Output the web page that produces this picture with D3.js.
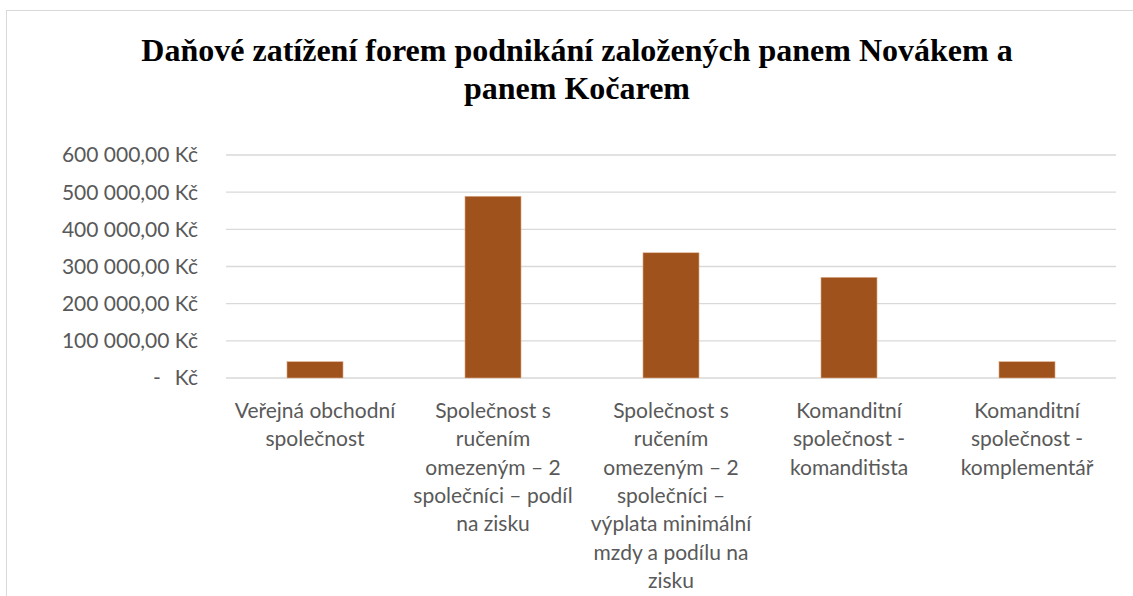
<!DOCTYPE html>
<html>
<head>
  <meta charset="utf-8">
  <title>Daňové zatížení forem podnikání</title>
  <script src="https://d3js.org/d3.v7.min.js"></script>
  <style>
    html, body { margin: 0; padding: 0; background: #fff; }
    svg { display: block; }
  </style>
</head>
<body>
  <script>

// chart data
const categories = [
  ["Veřejná obchodní", "společnost"],
  ["Společnost s", "ručením", "omezeným – 2", "společníci – podíl", "na zisku"],
  ["Společnost s", "ručením", "omezeným – 2", "společníci –", "výplata minimální", "mzdy a podílu na", "zisku"],
  ["Komanditní", "společnost -", "komanditista"],
  ["Komanditní", "společnost -", "komplementář"]
];
const values = [44000, 489000, 337000, 271000, 44000];
const yTicks = [0, 100000, 200000, 300000, 400000, 500000, 600000];
const titleLines = ["Daňové zatížení forem podnikání založených panem Novákem a", "panem Kočarem"];

const W = 1133, H = 596;
const plot = { left: 226, right: 1116, top: 155, bottom: 378 };

const svg = d3.select("body")
  .append("svg")
  .attr("width", W)
  .attr("height", H);

// chart area border
svg.append("rect")
  .attr("x", 6.5).attr("y", 10.5)
  .attr("width", W + 10).attr("height", H + 10)
  .attr("fill", "none")
  .attr("stroke", "#d9d9d9")
  .attr("stroke-width", 1);

// title
svg.append("text")
  .attr("x", 577)
  .attr("text-anchor", "middle")
  .attr("font-family", "'Liberation Serif', 'Times New Roman', serif")
  .attr("font-weight", "bold")
  .attr("font-size", 32)
  .attr("fill", "#000")
  .selectAll("tspan")
  .data(titleLines)
  .enter().append("tspan")
  .attr("x", 577)
  .attr("y", (d, i) => 61 + i * 38)
  .text(d => d);

const x = d3.scaleBand()
  .domain(d3.range(categories.length))
  .range([plot.left, plot.right])
  .paddingInner(0.685)
  .paddingOuter(0.3425);

const y = d3.scaleLinear()
  .domain([0, 600000])
  .range([plot.bottom, plot.top]);

// gridlines
svg.append("g")
  .selectAll("line")
  .data(yTicks)
  .enter().append("line")
  .attr("x1", plot.left)
  .attr("x2", plot.right)
  .attr("y1", d => y(d))
  .attr("y2", d => y(d))
  .attr("stroke", "#d9d9d9")
  .attr("stroke-width", 1.3);

// y axis labels (accounting format)
const fmt = v => d3.format(",.2f")(v).replace(/,/g, " ").replace(".", ",") + " Kč";
const yLab = svg.append("g")
  .attr("font-family", "Lato, 'Noto Sans', sans-serif")
  .attr("font-size", 21)
  .attr("fill", "#595959");

yLab.selectAll("text.val")
  .data(yTicks.filter(d => d > 0))
  .enter().append("text")
  .attr("class", "val")
  .attr("x", 198)
  .attr("y", d => y(d))
  .attr("dy", "0.35em")
  .attr("text-anchor", "end")
  .text(fmt);

yLab.append("text")
  .attr("x", 198).attr("y", y(0)).attr("dy", "0.35em")
  .attr("text-anchor", "end")
  .text("Kč");
yLab.append("text")
  .attr("x", 157).attr("y", y(0)).attr("dy", "0.35em")
  .attr("text-anchor", "middle")
  .text("-");

// bars
svg.append("g")
  .selectAll("rect")
  .data(values)
  .enter().append("rect")
  .attr("x", (d, i) => x(i))
  .attr("y", d => y(d))
  .attr("width", x.bandwidth())
  .attr("height", d => y(0) - y(d))
  .attr("fill", "#a0521c")
  .attr("stroke", "#e2b595")
  .attr("stroke-width", 0.6);

// category labels
const cat = svg.append("g")
  .attr("font-family", "Lato, 'Noto Sans', sans-serif")
  .attr("font-size", 21)
  .attr("fill", "#595959")
  .attr("text-anchor", "middle");

cat.selectAll("text")
  .data(categories)
  .enter().append("text")
  .attr("transform", (d, i) => `translate(${x(i) + x.bandwidth() / 2},0)`)
  .selectAll("tspan")
  .data(d => d)
  .enter().append("tspan")
  .attr("x", 0)
  .attr("y", (d, i) => 418 + i * 28.3)
  .text(d => d);

  </script>
</body>
</html>
